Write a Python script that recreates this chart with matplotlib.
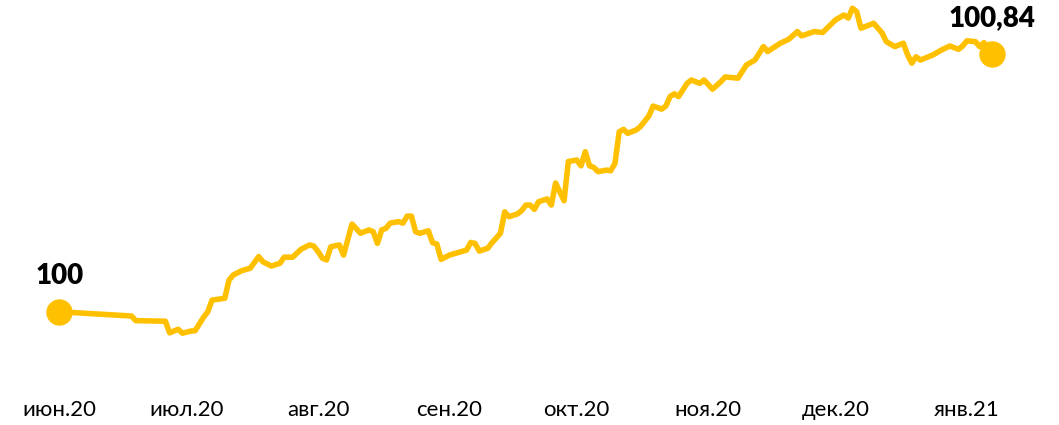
import matplotlib
matplotlib.use("Agg")
import matplotlib.pyplot as plt
import pandas as pd

plt.rcParams['font.family'] = ['Lato', 'DejaVu Sans']

# index value, base 100 at 1 June 2020
dates = [
    "2020-06-01", "2020-06-18", "2020-06-19", "2020-06-26", "2020-06-27",
    "2020-06-29", "2020-06-30", "2020-07-02", "2020-07-03", "2020-07-05",
    "2020-07-06", "2020-07-07", "2020-07-10", "2020-07-11", "2020-07-12",
    "2020-07-14", "2020-07-16", "2020-07-18", "2020-07-19", "2020-07-21",
    "2020-07-23", "2020-07-24", "2020-07-26", "2020-07-28", "2020-07-30",
    "2020-07-31", "2020-08-01", "2020-08-02", "2020-08-03", "2020-08-04",
    "2020-08-06", "2020-08-07", "2020-08-09", "2020-08-11", "2020-08-13",
    "2020-08-14", "2020-08-15", "2020-08-16", "2020-08-17", "2020-08-18",
    "2020-08-20", "2020-08-21", "2020-08-22", "2020-08-23", "2020-08-24",
    "2020-08-25", "2020-08-27", "2020-08-28", "2020-08-29", "2020-08-30",
    "2020-09-01", "2020-09-03", "2020-09-05", "2020-09-06", "2020-09-07",
    "2020-09-08", "2020-09-10", "2020-09-11", "2020-09-13", "2020-09-14",
    "2020-09-15", "2020-09-17", "2020-09-18", "2020-09-19", "2020-09-20",
    "2020-09-21", "2020-09-22", "2020-09-24", "2020-09-25", "2020-09-26",
    "2020-09-28", "2020-09-29", "2020-10-01", "2020-10-02", "2020-10-03",
    "2020-10-04", "2020-10-05", "2020-10-06", "2020-10-08", "2020-10-09",
    "2020-10-10", "2020-10-11", "2020-10-12", "2020-10-13", "2020-10-15",
    "2020-10-16", "2020-10-18", "2020-10-19", "2020-10-21", "2020-10-22",
    "2020-10-23", "2020-10-24", "2020-10-25", "2020-10-27", "2020-10-28",
    "2020-10-30", "2020-10-31", "2020-11-02", "2020-11-04", "2020-11-05",
    "2020-11-08", "2020-11-10", "2020-11-12", "2020-11-14", "2020-11-15",
    "2020-11-18", "2020-11-20", "2020-11-22", "2020-11-23", "2020-11-26",
    "2020-11-28", "2020-11-29", "2020-12-01", "2020-12-03", "2020-12-04",
    "2020-12-05", "2020-12-06", "2020-12-07", "2020-12-10", "2020-12-12",
    "2020-12-13", "2020-12-15", "2020-12-17", "2020-12-18", "2020-12-19",
    "2020-12-20", "2020-12-21", "2020-12-24", "2020-12-26", "2020-12-28",
    "2020-12-30", "2020-12-31", "2021-01-01", "2021-01-03", "2021-01-04",
    "2021-01-05", "2021-01-07",
]
values = [
    100.000, 99.986, 99.971, 99.969, 99.931,
    99.943, 99.930, 99.937, 99.938, 99.982,
    100.000, 100.038, 100.044, 100.103, 100.120,
    100.134, 100.142, 100.180, 100.163, 100.149,
    100.158, 100.178, 100.178, 100.204, 100.218,
    100.214, 100.196, 100.175, 100.169, 100.212,
    100.218, 100.185, 100.286, 100.256, 100.267,
    100.261, 100.223, 100.267, 100.272, 100.289,
    100.294, 100.289, 100.312, 100.312, 100.261,
    100.256, 100.264, 100.225, 100.221, 100.171,
    100.185, 100.193, 100.201, 100.226, 100.223,
    100.198, 100.207, 100.225, 100.256, 100.326,
    100.310, 100.319, 100.330, 100.348, 100.348,
    100.334, 100.359, 100.368, 100.348, 100.420,
    100.362, 100.490, 100.495, 100.476, 100.522,
    100.476, 100.471, 100.457, 100.462, 100.460,
    100.484, 100.587, 100.595, 100.582, 100.593,
    100.604, 100.639, 100.671, 100.661, 100.671,
    100.702, 100.711, 100.702, 100.745, 100.756,
    100.745, 100.756, 100.726, 100.751, 100.766,
    100.762, 100.805, 100.821, 100.865, 100.849,
    100.876, 100.889, 100.914, 100.900, 100.914,
    100.911, 100.925, 100.952, 100.968, 100.958,
    100.990, 100.979, 100.925, 100.941, 100.909,
    100.881, 100.865, 100.876, 100.838, 100.811,
    100.832, 100.821, 100.838, 100.854, 100.867,
    100.856, 100.867, 100.884, 100.881, 100.865,
    100.878, 100.840,
]
month_ticks = ["2020-06-01", "2020-07-01", "2020-08-01", "2020-09-01",
               "2020-10-01", "2020-11-01", "2020-12-01", "2021-01-01"]
month_labels = ["июн.20", "июл.20", "авг.20", "сен.20",
                "окт.20", "ноя.20", "дек.20", "янв.21"]
end_labels = ["100", "100,84"]

COLOR = "#FFC000"

x = pd.to_datetime(dates)

fig = plt.figure(figsize=(10.59, 4.25), dpi=100)
ax = fig.add_axes([0, 40 / 425, 1, 385 / 425])

ax.plot(x, values, color=COLOR, lw=4.0, solid_joinstyle="round",
        solid_capstyle="round", clip_on=False)
ax.plot([x[0], x[-1]], [values[0], values[-1]], "o", color=COLOR,
        markersize=18, clip_on=False)

for xi, vi, lab in zip([x[0], x[-1]], [values[0], values[-1]], end_labels):
    ax.annotate(lab, (xi, vi), xytext=(0, 26), textcoords="offset points",
                ha="center", va="center", fontsize=20, fontweight="heavy",
                color="black")

start = pd.Timestamp("2020-06-01")
ax.set_xlim(start - pd.Timedelta(days=14.0), start + pd.Timedelta(days=235.7))
ax.set_ylim(99.761, 101.017)

ax.set_xticks(pd.to_datetime(month_ticks))
ax.set_xticklabels(month_labels, fontsize=16)
ax.tick_params(axis="x", length=0, pad=11)
ax.set_yticks([])
for s in ax.spines.values():
    s.set_visible(False)

fig.savefig("out.png", dpi=100)
